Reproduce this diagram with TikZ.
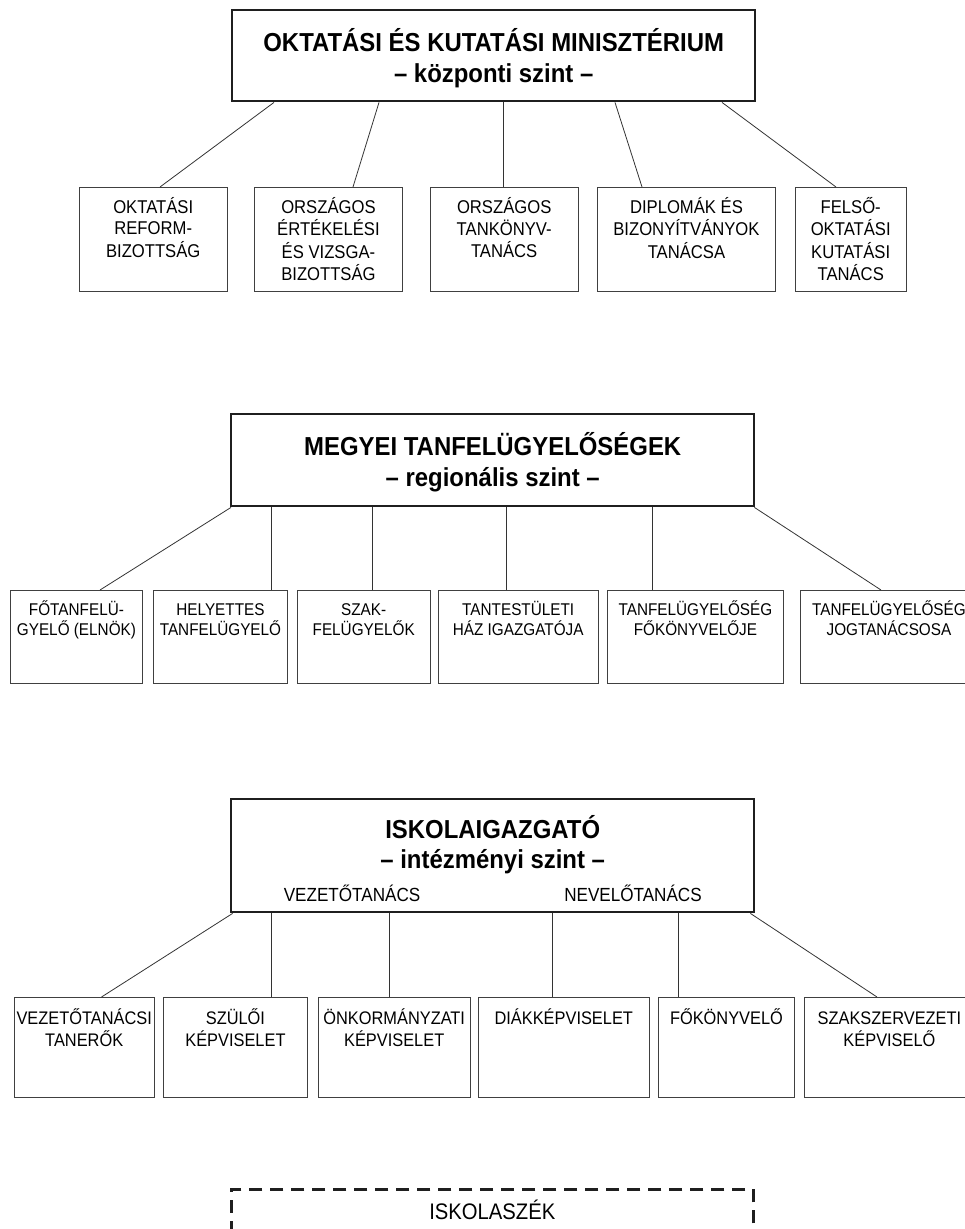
\documentclass[tikz,border=0pt]{standalone}
\usepackage{fontspec}
\setmainfont{Liberation Sans}[UprightFeatures={FakeStretch=0.9}, BoldFeatures={FakeStretch=0.92}]
\newcommand{\boxlines}[1]{\begin{tabular}[t]{@{}c@{}}#1\end{tabular}}

\begin{document}
\begin{tikzpicture}[
  x=1pt, y=-1pt,
  head/.style={draw=black!88, line width=2.4pt, anchor=north west, minimum width=523pt,
    inner sep=0pt, font=\bfseries\fontsize{26}{31.5}\selectfont},
  unit/.style={draw=black!75, line width=0.9pt, anchor=north west, inner xsep=1pt,
    inner ysep=0pt},
  rowa/.style={unit, text height=26pt, text depth=78pt, font=\fontsize{18.5}{21.5}\selectfont},
  rowb/.style={unit, text height=25pt, text depth=68pt, font=\fontsize{17}{19}\selectfont},
  rowc/.style={unit, text height=27pt, text depth=73pt, font=\fontsize{18.2}{20}\selectfont},
  link/.style={draw=black!80, line width=0.8pt}
]
\useasboundingbox (0,0) rectangle (965,1229);

% Central level
\node[head, text height=41pt, text depth=50pt] (ministry) at (231,9)
  {\boxlines{OKTATÁSI ÉS KUTATÁSI MINISZTÉRIUM\\– központi szint –}};
\node[rowa, minimum width=147.5pt] (reform) at (79,187) {\boxlines{OKTATÁSI\\REFORM-\\BIZOTTSÁG}};
\node[rowa, minimum width=148pt] (vizsga) at (254,187) {\boxlines{ORSZÁGOS\\ÉRTÉKELÉSI\\ÉS VIZSGA-\\BIZOTTSÁG}};
\node[rowa, minimum width=148.5pt] (tankonyv) at (429.5,187) {\boxlines{ORSZÁGOS\\TANKÖNYV-\\TANÁCS}};
\node[rowa, minimum width=178pt] (diploma) at (597,187) {\boxlines{DIPLOMÁK ÉS\\BIZONYÍTVÁNYOK\\TANÁCSA}};
\node[rowa, minimum width=111.5pt] (felso) at (794.5,187) {\boxlines{FELSŐ-\\OKTATÁSI\\KUTATÁSI\\TANÁCS}};

\draw[link] ([xshift=43pt]ministry.south west) -- ([xshift=81pt]reform.north west);
\draw[link] ([xshift=148pt]ministry.south west) -- ([xshift=99pt]vizsga.north west);
\draw[link] ([xshift=272pt]ministry.south west) -- ([xshift=73.5pt]tankonyv.north west);
\draw[link] ([xshift=384pt]ministry.south west) -- ([xshift=45pt]diploma.north west);
\draw[link] ([xshift=491pt]ministry.south west) -- ([xshift=41.5pt]felso.north west);

% Regional level
\node[head, text height=41pt, text depth=51pt] (county) at (230,413)
  {\boxlines{MEGYEI TANFELÜGYELŐSÉGEK\\– regionális szint –}};
\node[rowb, minimum width=132pt] (elnok) at (10,590) {\boxlines{FŐTANFELÜ-\\GYELŐ (ELNÖK)}};
\node[rowb, minimum width=134pt] (helyettes) at (153,590) {\boxlines{HELYETTES\\TANFELÜGYELŐ}};
\node[rowb, minimum width=132.5pt] (szak) at (297,590) {\boxlines{SZAK-\\FELÜGYELŐK}};
\node[rowb, minimum width=160.5pt] (haz) at (437.5,590) {\boxlines{TANTESTÜLETI\\HÁZ IGAZGATÓJA}};
\node[rowb, minimum width=176pt] (konyvelo) at (607,590) {\boxlines{TANFELÜGYELŐSÉG\\FŐKÖNYVELŐJE}};
\node[rowb, minimum width=177pt] (jog) at (800,590) {\boxlines{TANFELÜGYELŐSÉG\\JOGTANÁCSOSA}};

\draw[link] ([xshift=1pt]county.south west) -- ([xshift=90pt]elnok.north west);
\draw[link] ([xshift=41pt]county.south west) -- ([xshift=118pt]helyettes.north west);
\draw[link] ([xshift=142pt]county.south west) -- ([xshift=75pt]szak.north west);
\draw[link] ([xshift=276pt]county.south west) -- ([xshift=68.5pt]haz.north west);
\draw[link] ([xshift=422pt]county.south west) -- ([xshift=45pt]konyvelo.north west);
\draw[link] ([xshift=-1pt]county.south east) -- ([xshift=81pt]jog.north west);

% Institutional level
\node[head, text height=39pt, text depth=74pt, font=\bfseries\fontsize{26}{30}\selectfont] (school) at (230,798)
  {\boxlines{ISKOLAIGAZGATÓ\\– intézményi szint –}};
\node[anchor=base, font=\fontsize{19}{21}\selectfont] (vezeto) at (352,901.5) {VEZETŐTANÁCS};
\node[anchor=base, font=\fontsize{19}{21}\selectfont] (nevelo) at (633,901.5) {NEVELŐTANÁCS};
\node[rowc, minimum width=140.5pt] (tanerok) at (13.5,997) {\boxlines{VEZETŐTANÁCSI\\TANERŐK}};
\node[rowc, minimum width=144pt] (szuloi) at (163,997) {\boxlines{SZÜLŐI\\KÉPVISELET}};
\node[rowc, minimum width=152.5pt] (onkorm) at (317.5,997) {\boxlines{ÖNKORMÁNYZATI\\KÉPVISELET}};
\node[rowc, minimum width=170.6pt] (diak) at (478,997) {\boxlines{DIÁKKÉPVISELET}};
\node[rowc, minimum width=136pt] (fokonyv) at (658,997) {\boxlines{FŐKÖNYVELŐ}};
\node[rowc, minimum width=170pt] (szaksz) at (804,997) {\boxlines{SZAKSZERVEZETI\\KÉPVISELŐ}};

\draw[link] ([xshift=2.6pt]school.south west) -- ([xshift=88pt]tanerok.north west);
\draw[link] ([xshift=41pt]school.south west) -- ([xshift=108pt]szuloi.north west);
\draw[link] ([xshift=159pt]school.south west) -- ([xshift=71.5pt]onkorm.north west);
\draw[link] ([xshift=322pt]school.south west) -- ([xshift=74pt]diak.north west);
\draw[link] ([xshift=448pt]school.south west) -- ([xshift=20pt]fokonyv.north west);
\draw[link] ([xshift=-5pt]school.south east) -- ([xshift=73pt]szaksz.north west);

% School board
\node[draw=black!88, line width=2.6pt, dash pattern=on 13pt off 8pt, anchor=north west,
  minimum width=522pt, inner sep=0pt, text height=30pt, text depth=70pt,
  font=\fontsize{22.5}{25}\selectfont] (board) at (230,1188) {ISKOLASZÉK};

\end{tikzpicture}
\end{document}
